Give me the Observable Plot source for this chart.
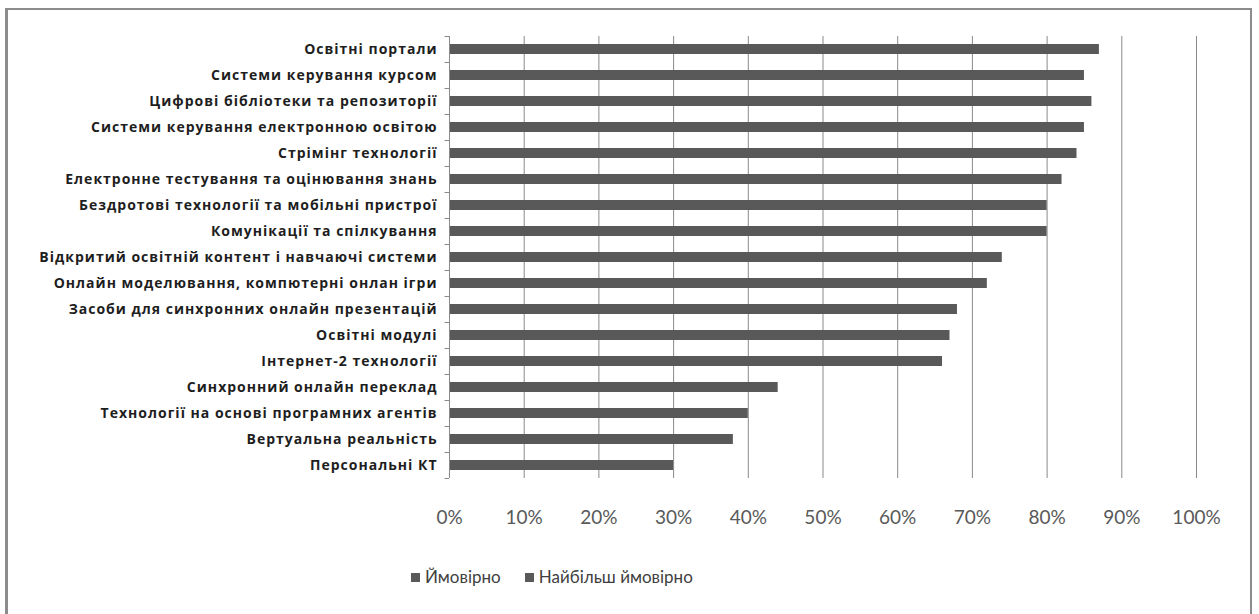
<!DOCTYPE html>
<html>
<head>
<meta charset="utf-8">
<script src="https://cdn.jsdelivr.net/npm/d3@7"></script>
<script src="https://cdn.jsdelivr.net/npm/@observablehq/plot@0.6"></script>
<style>
  html, body { margin: 0; padding: 0; background: #fff; }
  #wrap { position: relative; width: 1259px; height: 614px; overflow: hidden; }
  #frame { position: absolute; left: 5px; top: 8px; width: 1247px; height: 700px;
           border: 2px solid #8c8c8c; border-left-width: 3px; box-sizing: border-box; }
  #chart { position: absolute; left: 0; top: 0; }
  #legend { position: absolute; left: 411px; top: 566px; font-family: Lato, sans-serif;
            font-size: 17px; color: #404040; display: flex; gap: 24px; }
  #legend span.sw { display: inline-block; width: 9px; height: 9px; background: #595959; margin-right: 5px; vertical-align: 1px; }
</style>
</head>
<body>
<div id="wrap">
  <div id="frame"></div>
  <div id="chart"></div>
  <div id="legend"></div>
</div>
<script>
const categories = [
  "Освітні портали",
  "Системи керування курсом",
  "Цифрові бібліотеки та репозиторії",
  "Системи керування електронною освітою",
  "Стрімінг технології",
  "Електронне тестування та оцінювання знань",
  "Бездротові технології та мобільні пристрої",
  "Комунікації та спілкування",
  "Відкритий освітній контент і навчаючі системи",
  "Онлайн моделювання, компютерні онлан ігри",
  "Засоби для синхронних онлайн презентацій",
  "Освітні модулі",
  "Інтернет-2 технології",
  "Синхронний онлайн переклад",
  "Технології на основі програмних агентів",
  "Вертуальна реальність",
  "Персональні КТ"
];
const values = [0.87, 0.85, 0.86, 0.85, 0.84, 0.82, 0.80, 0.80, 0.74, 0.72, 0.68, 0.67, 0.66, 0.44, 0.40, 0.38, 0.30];
const xTicks = [0, 0.1, 0.2, 0.3, 0.4, 0.5, 0.6, 0.7, 0.8, 0.9, 1.0];
const legendLabels = ["Ймовірно", "Найбільш ймовірно"];

const data = categories.map((c, i) => ({category: c, value: values[i]}));

const chart = Plot.plot({
  width: 1259,
  height: 545,
  marginLeft: 449,
  marginRight: 63,
  marginTop: 36,
  marginBottom: 67,
  style: {background: "transparent", overflow: "visible"},
  x: {domain: [0, 1], ticks: xTicks, tickFormat: d3.format(".0%")},
  y: {domain: categories, paddingInner: 0.62, paddingOuter: 0.31},
  marks: [
    Plot.gridX(xTicks.slice(1), {stroke: "#8a8a8a", strokeOpacity: 1, strokeWidth: 1}),
    Plot.barX(data, {x: "value", y: "category", fill: "#595959"}),
    Plot.ruleX([0], {stroke: "#8a8a8a", strokeWidth: 1}),
    Plot.ruleY(categories, {y: d => d, x1: -0.006, x2: 0, dy: -13, stroke: "#8a8a8a"}),
    Plot.ruleY(categories.slice(-1), {y: d => d, x1: -0.006, x2: 0, dy: 13, stroke: "#8a8a8a"}),
    Plot.axisX({ticks: xTicks, tickFormat: d3.format(".0%"), tickSize: 0, tickPadding: 32,
                fontSize: 19, fontFamily: "Lato, sans-serif", fill: "#595959", label: null}),
    Plot.axisY({tickSize: 0, tickPadding: 12, fontSize: 14, fontWeight: "bold",
                fontFamily: "'Open Sans', sans-serif", fill: "#1e1e1e", label: null})
  ]
});
d3.select(chart).selectAll('g[aria-label^="y-axis"] text').style("letter-spacing", "1px");
document.getElementById("chart").appendChild(chart);

const legend = document.getElementById("legend");
legendLabels.forEach(l => {
  const d = document.createElement("div");
  d.innerHTML = `<span class="sw"></span>${l}`;
  legend.appendChild(d);
});
</script>
</body>
</html>
